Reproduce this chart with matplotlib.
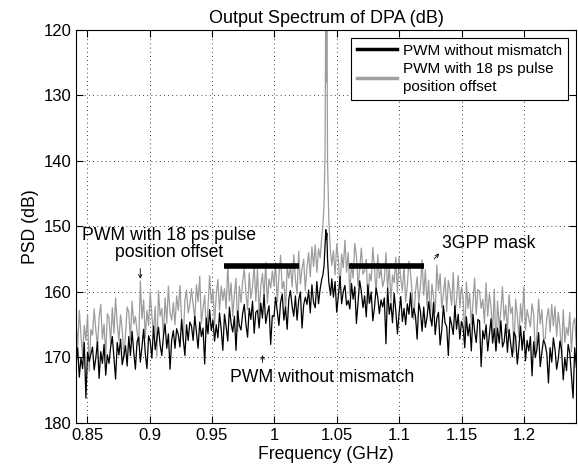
import numpy as np
import matplotlib
matplotlib.use('Agg')
import matplotlib.pyplot as plt

plt.rcParams['font.family'] = ['Liberation Sans', 'DejaVu Sans']

# PSD [dB]: band below the carrier, carrier, band above
f_lo = np.linspace(0.841, 1.038, 150)
f_hi = np.linspace(1.046, 1.242, 150)
f_car = [1.0388, 1.0398, 1.0406, 1.0412, 1.0416, 1.0420, 1.0426, 1.0436, 1.0450]

blk_lo = [171.2, 168.5, 173.0, 170.0, 171.7, 167.7, 176.2, 169.2, 170.6, 169.5,
          168.4, 171.9, 170.1, 167.6, 173.2, 169.1, 170.9, 168.0, 172.7, 169.6,
          170.9, 168.4, 166.8, 170.1, 173.3, 167.7, 169.6, 167.2, 171.1, 169.8,
          168.2, 171.3, 166.8, 169.7, 166.0, 169.2, 171.8, 167.6, 166.9, 170.7,
          168.3, 165.7, 169.4, 171.7, 166.7, 167.6, 170.1, 165.2, 168.8, 167.2,
          165.4, 168.1, 169.7, 166.7, 164.9, 168.6, 166.4, 171.8, 167.3, 165.9,
          168.6, 165.6, 166.5, 168.4, 164.2, 167.2, 169.7, 165.0, 167.4, 164.6,
          165.2, 167.4, 163.7, 166.2, 168.6, 164.6, 166.8, 165.5, 171.0, 164.0,
          166.4, 162.7, 165.9, 164.3, 167.5, 165.0, 167.0, 163.2, 165.7, 168.9,
          163.4, 165.3, 167.5, 162.3, 164.8, 166.1, 163.7, 168.9, 162.9, 165.1,
          165.8, 163.3, 161.9, 164.9, 166.9, 162.5, 164.2, 161.4, 166.3, 163.1,
          162.8, 165.5, 161.7, 164.0, 160.4, 164.8, 163.3, 162.1, 168.0, 163.6,
          163.8, 160.8, 163.0, 165.1, 161.6, 160.3, 164.3, 162.3, 165.7, 161.1,
          159.8, 162.2, 163.7, 160.6, 164.3, 161.2, 160.0, 165.5, 162.0, 160.8,
          161.9, 159.7, 163.2, 158.9, 161.6, 162.4, 158.4, 161.8, 159.5, 158.0]
gry_lo = [164.5, 168.3, 162.8, 166.6, 169.8, 165.1, 167.4, 163.4, 172.1, 165.7,
          166.6, 162.6, 165.8, 168.3, 163.8, 161.9, 167.2, 164.9, 169.8, 163.3,
          164.0, 167.9, 162.4, 166.3, 160.9, 165.0, 167.4, 163.5, 165.7, 170.0,
          166.5, 162.3, 163.1, 167.4, 161.4, 164.9, 163.7, 166.0, 168.1, 158.3,
          164.1, 161.2, 167.0, 162.8, 165.1, 160.0, 163.7, 166.2, 162.2, 169.8,
          159.8, 163.7, 162.5, 166.6, 160.9, 164.8, 159.1, 163.2, 164.3, 161.6,
          165.0, 160.6, 162.8, 159.0, 164.2, 167.5, 161.3, 159.7, 163.2, 161.9,
          159.5, 162.0, 164.1, 158.9, 161.5, 157.6, 164.8, 162.5, 160.5, 166.1,
          162.4, 157.5, 161.7, 159.6, 165.0, 160.4, 158.1, 162.8, 159.1, 161.3,
          159.5, 162.6, 156.0, 161.4, 158.6, 163.7, 160.3, 157.9, 166.0, 159.1,
          161.6, 158.4, 156.5, 160.2, 162.7, 157.1, 161.0, 159.2, 155.9, 161.4,
          156.5, 163.3, 159.2, 157.2, 160.6, 155.5, 161.7, 158.0, 159.4, 156.8,
          159.1, 155.5, 161.6, 157.6, 154.4, 159.5, 158.4, 163.0, 156.2, 157.9,
          156.0, 159.2, 154.3, 158.0, 160.3, 153.8, 158.8, 156.5, 155.0, 159.8,
          156.3, 154.0, 157.7, 153.1, 156.1, 152.8, 157.0, 153.4, 154.8, 151.5]
blk_hi = [158.0, 160.8, 158.4, 163.1, 160.6, 157.6, 161.8, 159.9, 159.0, 162.0,
          161.3, 162.6, 158.7, 161.1, 159.2, 164.8, 161.6, 158.3, 159.9, 162.4,
          160.6, 163.8, 158.9, 161.7, 160.0, 164.4, 162.4, 159.4, 160.8, 163.3,
          161.2, 162.3, 160.9, 167.9, 159.4, 163.4, 161.7, 164.7, 160.2, 162.9,
          166.4, 163.2, 160.7, 164.5, 162.5, 165.0, 161.8, 163.4, 160.2, 163.9,
          162.5, 163.7, 167.2, 161.7, 162.9, 166.0, 162.3, 165.4, 163.9, 161.5,
          163.6, 165.2, 161.6, 166.5, 164.0, 163.1, 168.1, 165.8, 162.1, 164.7,
          165.3, 169.7, 163.8, 165.0, 166.5, 162.1, 165.7, 163.4, 167.2, 164.5,
          165.4, 168.5, 163.8, 166.7, 164.9, 169.0, 163.4, 165.9, 167.7, 164.2,
          164.4, 171.4, 165.9, 167.2, 165.0, 169.0, 166.6, 164.1, 167.8, 165.6,
          169.0, 165.5, 167.8, 164.4, 168.4, 167.6, 164.9, 169.2, 165.7, 167.9,
          169.9, 166.1, 166.8, 171.0, 168.4, 165.2, 168.9, 166.0, 170.5, 167.4,
          169.0, 166.8, 172.8, 167.6, 170.0, 168.7, 166.2, 171.4, 169.2, 167.3,
          168.0, 169.4, 173.9, 168.5, 170.7, 167.0, 168.8, 171.8, 170.2, 167.5,
          168.8, 173.4, 170.0, 172.0, 168.0, 169.3, 172.8, 176.2, 168.5, 171.5]
gry_hi = [155.9, 153.7, 157.4, 152.7, 155.0, 159.6, 154.2, 156.3, 152.1, 157.0,
          154.0, 160.5, 155.6, 157.9, 152.6, 154.5, 159.0, 156.5, 153.3, 157.3,
          156.7, 155.0, 161.8, 157.2, 158.3, 153.2, 156.4, 160.4, 154.3, 157.9,
          156.5, 159.2, 158.1, 154.0, 159.7, 155.8, 161.5, 157.4, 158.6, 154.7,
          160.2, 154.7, 158.0, 159.8, 155.9, 161.5, 159.0, 155.3, 157.2, 160.4,
          164.2, 159.9, 157.7, 161.6, 159.2, 155.1, 160.5, 156.6, 162.1, 158.2,
          164.4, 158.8, 160.8, 163.1, 155.9, 159.8, 157.2, 162.4, 160.3, 157.8,
          163.0, 158.2, 159.7, 162.0, 157.0, 163.5, 161.2, 157.5, 162.4, 159.2,
          160.8, 167.2, 158.5, 162.5, 160.2, 164.9, 161.7, 157.9, 163.4, 159.6,
          159.9, 162.5, 161.1, 164.8, 158.6, 163.7, 160.3, 162.3, 166.4, 159.6,
          169.0, 161.4, 165.4, 162.9, 159.2, 164.3, 162.0, 166.2, 160.4, 163.3,
          162.3, 169.2, 161.1, 163.5, 166.9, 161.8, 164.6, 159.2, 165.8, 162.7,
          164.0, 165.3, 161.8, 163.4, 169.6, 166.3, 161.1, 164.9, 162.7, 167.1,
          167.2, 163.9, 162.5, 166.1, 161.9, 165.2, 162.2, 166.8, 163.1, 165.4,
          169.8, 162.7, 167.7, 165.4, 166.6, 163.1, 169.1, 164.8, 164.0, 168.2]
gry_car = [150.0, 146.5, 139.0, 112.0, 128.0, 112.0, 140.0, 149.0, 154.0]
blk_car = [157.5, 156.0, 153.0, 150.5, 152.0, 151.0, 155.0, 158.5, 160.5]

# 3GPP mask
mask_bands = [(0.96, 1.02), (1.06, 1.12)]
mask_level = 156

freq = np.concatenate([f_lo, f_car, f_hi])
psd_blk = np.concatenate([blk_lo, blk_car, blk_hi])
psd_gry = np.concatenate([gry_lo, gry_car, gry_hi])

fig = plt.figure(figsize=(5.78, 4.73), dpi=100)
ax = fig.add_axes([0.1315, 0.1057, 0.865, 0.831])

ax.plot(freq, psd_gry, color='#9c9c9c', lw=0.9, zorder=2)
ax.plot(freq, psd_blk, color='k', lw=0.9, zorder=3)
for f1, f2 in mask_bands:
    ax.plot([f1, f2], [mask_level, mask_level], color='k', lw=4, solid_capstyle='butt', zorder=4)

# legend proxies
h1, = ax.plot([], [], color='k', lw=2.5)
h2, = ax.plot([], [], color='#a0a0a0', lw=2.5)
leg = ax.legend([h1, h2], ['PWM without mismatch', 'PWM with 18 ps pulse\nposition offset'],
                loc='upper right', fontsize=11, handlelength=2.6, fancybox=False,
                framealpha=1, borderaxespad=0.5, borderpad=0.4, labelspacing=0.25,
                handletextpad=0.4)
for t in leg.get_texts():
    t.set_linespacing(1.4)
leg.get_frame().set_edgecolor('k')
leg.get_frame().set_linewidth(0.8)

ax.set_xlim(0.841, 1.2417)
ax.set_ylim(180, 120)
ax.set_xticks([0.85, 0.9, 0.95, 1.0, 1.05, 1.1, 1.15, 1.2])
ax.set_xticklabels(['0.85', '0.9', '0.95', '1', '1.05', '1.1', '1.15', '1.2'])
ax.set_yticks(np.arange(120, 181, 10))
ax.tick_params(direction='in', top=True, right=True, labelsize=12, length=5)
ax.grid(True, color='k', linestyle=(0, (1, 4)), linewidth=0.6)

ax.set_title('Output Spectrum of DPA (dB)', fontsize=13, pad=5)
ax.set_xlabel('Frequency (GHz)', fontsize=12.7, labelpad=2)
ax.set_ylabel('PSD (dB)', fontsize=12.7, labelpad=3)

ax.text(0.9155, 152.6, 'PWM with 18 ps pulse\nposition offset', ha='center', va='center',
        fontsize=12.7, linespacing=1.0, zorder=5)
ax.annotate('', xy=(0.8925, 158.4), xytext=(0.8925, 156.0),
            arrowprops=dict(arrowstyle='->', lw=0.6, color='k', mutation_scale=6))
ax.text(1.1345, 152.6, '3GPP mask', ha='left', va='center', fontsize=12.7, zorder=5)
ax.annotate('', xy=(1.1335, 153.8), xytext=(1.1265, 155.3),
            arrowprops=dict(arrowstyle='->', lw=0.6, color='k', mutation_scale=6))
ax.text(1.0385, 173.0, 'PWM without mismatch', ha='center', va='center', fontsize=12.7, zorder=5)
ax.annotate('', xy=(0.9905, 169.2), xytext=(0.9905, 171.2),
            arrowprops=dict(arrowstyle='->', lw=0.6, color='k', mutation_scale=6))

fig.savefig('out.png', dpi=100)
